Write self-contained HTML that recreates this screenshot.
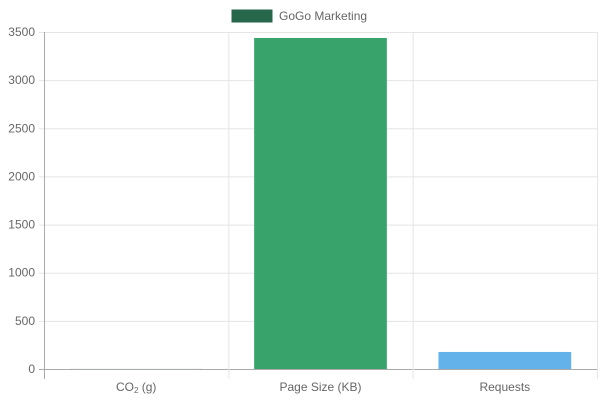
<!DOCTYPE html>
<html><head><meta charset="utf-8"><style>
html,body{margin:0;padding:0;background:#fff;width:600px;height:400px;overflow:hidden}
svg text{font-family:"Liberation Sans",sans-serif;fill:#666}
</style></head><body>
<svg id="chart" width="600" height="400" xmlns="http://www.w3.org/2000/svg">
<g>
<rect x="232" y="10" width="40" height="12" fill="#26664a" stroke="#26664a"/>
<text x="279" y="20" font-size="12">GoGo Marketing</text>
</g>
<g id="grid"></g><g id="bars"></g><g id="axes"></g>
</svg>
<script>
const categories = ["CO2 (g)", "Page Size (KB)", "Requests"];
const values = [0.6, 3438, 177];
const colors = ["#2e8b57", "#38a36b", "#63b3ea"];
const yTicks = [0, 500, 1000, 1500, 2000, 2500, 3000, 3500];

const X0 = 44, X1 = 597, Y0 = 369, Y1 = 32, YMAX = 3500;
const ns = "http://www.w3.org/2000/svg";
const catW = (X1 - X0) / categories.length;
function y(v){ return Y0 - v / YMAX * (Y0 - Y1); }
function x(i){ return X0 + i * catW; }
function mk(tag, attrs, parent){ const e=document.createElementNS(ns,tag); for(const k in attrs) e.setAttribute(k,attrs[k]); parent.appendChild(e); return e; }
const grid=document.getElementById('grid'), bars=document.getElementById('bars'), axes=document.getElementById('axes');

yTicks.forEach(t=>{
  const l=mk('line',{x1:X0-5,x2:X1,y1:y(t)+0.5,y2:y(t)+0.5,stroke:t===0?'#aaa':'#e5e5e5'},grid);
  
  
  const tx=mk('text',{x:X0-9,y:y(t)+4,'font-size':12,'text-anchor':'end'},axes);
  tx.textContent=t;
  
  
});
for(let i=0;i<=categories.length;i++){
  const l=mk('line',{x1:x(i)+0.5,x2:x(i)+0.5,y1:Y1,y2:Y0+10,stroke:i===0?'#aaa':'#e5e5e5'},grid);
  
  
}
categories.forEach((c,i)=>{
  const bw=catW*0.72, bx=x(i)+(catW-bw)/2;
  const r=mk('rect',{x:bx,y:y(values[i]),width:bw,height:Y0-y(values[i]),fill:colors[i]},bars);
  
  
  const tx=mk('text',{x:x(i)+catW/2,y:391,'font-size':12,'text-anchor':'middle'},axes);
  if(c==="CO2 (g)"){ tx.innerHTML='CO<tspan font-size="8" dy="2">2</tspan><tspan dy="-2"> (g)</tspan>'; }
  else tx.textContent=c;
  
  
});
</script>
</body></html>
